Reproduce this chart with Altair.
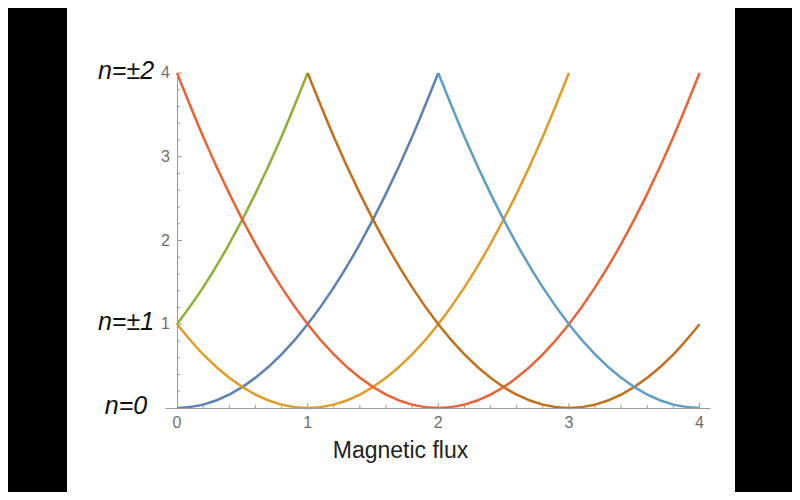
import altair as alt
import pandas as pd

# flux grid the bands are sampled on
flux = [0.0, 0.2, 0.4, 0.6, 0.8, 1.0, 1.2, 1.4, 1.6, 1.8, 2.0,
        2.2, 2.4, 2.6, 2.8, 3.0, 3.2, 3.4, 3.6, 3.8, 4.0]

# energy of each band (start index into flux, values)
band_names = ["n=-1", "n=0", "n=1", "n=2", "n=3", "n=4"]
band_colors = ["#8FB032", "#5E81B5", "#E19C24", "#EB6235", "#C56E1A", "#5D9EC7"]
band_start = [0, 0, 0, 0, 5, 10]
band_m1 = [1.0, 1.44, 1.96, 2.56, 3.24, 4.0]
band_0 = [0.0, 0.04, 0.16, 0.36, 0.64, 1.0, 1.44, 1.96, 2.56, 3.24, 4.0]
band_1 = [1.0, 0.64, 0.36, 0.16, 0.04, 0.0, 0.04, 0.16, 0.36, 0.64, 1.0,
          1.44, 1.96, 2.56, 3.24, 4.0]
band_2 = [4.0, 3.24, 2.56, 1.96, 1.44, 1.0, 0.64, 0.36, 0.16, 0.04, 0.0,
          0.04, 0.16, 0.36, 0.64, 1.0, 1.44, 1.96, 2.56, 3.24, 4.0]
band_3 = [4.0, 3.24, 2.56, 1.96, 1.44, 1.0, 0.64, 0.36, 0.16, 0.04, 0.0,
          0.04, 0.16, 0.36, 0.64, 1.0]
band_4 = [4.0, 3.24, 2.56, 1.96, 1.44, 1.0, 0.64, 0.36, 0.16, 0.04, 0.0]
band_values = [band_m1, band_0, band_1, band_2, band_3, band_4]

# level labels on the left
level_y = [0, 1, 4]
level_text = ["n=0", "n=\u00b11", "n=\u00b12"]

# axis ticks and tick labels
x_labels = [0, 1, 2, 3, 4]
x_major = [1, 2, 3, 4]
x_minor = [0.2, 0.4, 0.6, 0.8, 1.2, 1.4, 1.6, 1.8, 2.2, 2.4, 2.6, 2.8,
           3.2, 3.4, 3.6, 3.8]
y_labels = [1, 2, 3, 4]
y_major = [1, 2, 3, 4]
y_minor = [0.2, 0.4, 0.6, 0.8, 1.2, 1.4, 1.6, 1.8, 2.2, 2.4, 2.6, 2.8,
           3.2, 3.4, 3.6, 3.8]

rows = []
for name, start, vals in zip(band_names, band_start, band_values):
    for x, y in zip(flux[start:start + len(vals)], vals):
        rows.append({"band": name, "flux": x, "energy": y})
df = pd.DataFrame(rows)

W, H = 545, 335
GRAY = "#9a9a9a"
LABEL = "#6e6e6e"
FONT = "Liberation Sans"

xscale = alt.Scale(domain=[-0.092, 4.08], nice=False, zero=False)
yscale = alt.Scale(domain=[0, 4], nice=False)

xaxis = alt.Axis(
    values=[0, 1, 2, 3, 4], labels=False, ticks=False, grid=False, zindex=1,
    domainColor=GRAY, title="Magnetic flux",
    titleFont=FONT, titleFontSize=23, titleFontWeight="normal",
    titleColor="#222", titleX=235, titleY=49,
    titleBaseline="alphabetic", titleAlign="center",
)
yaxis = alt.Axis(
    values=[1, 2, 3, 4], labels=False, ticks=False, grid=False, zindex=1,
    domainColor=GRAY, title="", offset=-12,
)


def xenc(field):
    return alt.X(field, type="quantitative", scale=xscale, axis=xaxis)


def yenc(field):
    return alt.Y(field, type="quantitative", scale=yscale, axis=yaxis)


paper = (
    alt.Chart(pd.DataFrame({"a": [0]}))
    .mark_rect(color="white")
    .encode(x=alt.value(-98), x2=alt.value(570), y=alt.value(-66), y2=alt.value(420))
)

lines = (
    alt.Chart(df)
    .mark_line(strokeWidth=2.5, interpolate="monotone")
    .encode(
        x=xenc("flux"),
        y=yenc("energy"),
        color=alt.Color("band:N", scale=alt.Scale(domain=band_names, range=band_colors), legend=None),
    )
)

xt_major = (
    alt.Chart(pd.DataFrame({"v": x_major}))
    .mark_rule(color=GRAY)
    .encode(x=xenc("v"), y=alt.value(H), y2=alt.value(H - 5))
)
xt_minor = (
    alt.Chart(pd.DataFrame({"v": x_minor}))
    .mark_rule(color=GRAY)
    .encode(x=xenc("v"), y=alt.value(H), y2=alt.value(H - 3))
)
yt_major = (
    alt.Chart(pd.DataFrame({"v": y_major}))
    .mark_rule(color=GRAY)
    .encode(y=yenc("v"), x=alt.value(12), x2=alt.value(17))
)
yt_minor = (
    alt.Chart(pd.DataFrame({"v": y_minor}))
    .mark_rule(color=GRAY)
    .encode(y=yenc("v"), x=alt.value(12), x2=alt.value(15))
)

xt_text = (
    alt.Chart(pd.DataFrame({"v": x_labels}))
    .mark_text(font=FONT, fontSize=16, color=LABEL, align="center", baseline="middle")
    .encode(x=xenc("v"), y=alt.value(H + 15), text=alt.Text("v:Q", format="d"))
)
yt_text = (
    alt.Chart(pd.DataFrame({"v": y_labels}))
    .mark_text(font=FONT, fontSize=16, color=LABEL, align="right", baseline="middle")
    .encode(y=yenc("v"), x=alt.value(5), text=alt.Text("v:Q", format="d"))
)

levels = (
    alt.Chart(pd.DataFrame({"y": level_y, "t": level_text}))
    .mark_text(font=FONT, fontSize=25, fontStyle="italic", color="#111",
               align="center", baseline="middle", dy=-2)
    .encode(y=yenc("y"), x=alt.value(-39), text="t:N")
)

chart = (
    alt.layer(paper, xt_minor, xt_major, yt_minor, yt_major, xt_text, yt_text, lines, levels)
    .properties(
        width=W, height=H, background="black",
        padding={"left": 157, "top": 65, "right": 82, "bottom": 84},
        autosize=alt.AutoSizeParams(type="none"),
    )
    .configure_view(strokeWidth=0)
)

chart.save("out.html", embed_options={"renderer": "svg", "actions": False})
